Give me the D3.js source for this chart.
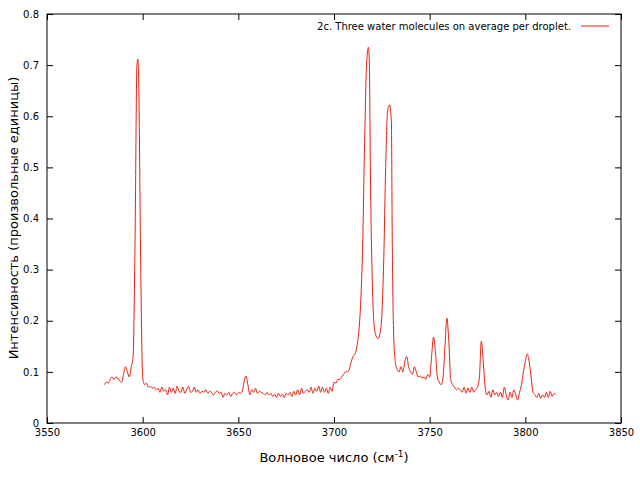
<!DOCTYPE html>
<html><head><meta charset="utf-8">
<script src="https://cdn.jsdelivr.net/npm/d3@7"></script>
<style>body{margin:0;background:#fff}text{font-family:"DejaVu Sans",sans-serif}</style>
</head><body><svg id="c" width="640" height="480"></svg>
<script>
const wavenumbers=[3580,3581,3582,3583,3584,3585,3586,3587,3588,3589,3590,3591,3592,3593,3594,3595,3596,3597,3597.5,3598,3599,3600,3601,3602,3603,3604,3605,3606,3607,3608,3609,3610,3611,3612,3613,3614,3615,3616,3617,3618,3619,3620,3621,3622,3623,3624,3625,3626,3627,3628,3629,3630,3631,3632,3633,3634,3635,3636,3637,3638,3639,3640,3641,3642,3643,3644,3645,3646,3647,3648,3649,3650,3651,3652,3653,3654,3655,3656,3657,3658,3659,3660,3661,3662,3663,3664,3665,3666,3667,3668,3669,3670,3671,3672,3673,3674,3675,3676,3677,3678,3679,3680,3681,3682,3683,3684,3685,3686,3687,3688,3689,3690,3691,3692,3693,3694,3695,3696,3697,3698,3699,3700,3701,3702,3703,3704,3705,3706,3707,3708,3709,3710,3711,3712,3713,3714,3715,3716,3717,3718,3718.5,3719,3720,3721,3722,3723,3724,3725,3726,3727,3728,3729,3730,3730.4,3731,3732,3733,3734,3735,3736,3737,3738,3739,3740,3741,3742,3743,3744,3745,3746,3747,3748,3749,3750,3751,3752,3753,3754,3755,3756,3757,3758,3759,3760,3761,3762,3763,3764,3765,3766,3767,3768,3769,3770,3771,3772,3773,3774,3775,3776,3777,3778,3779,3780,3781,3782,3783,3784,3785,3786,3787,3788,3789,3790,3791,3792,3793,3794,3795,3796,3797,3798,3799,3800,3801,3802,3803,3804,3805,3806,3807,3808,3809,3810,3811,3812,3813,3814,3815,3816];
const intensity=[.075,.08,.078,.085,.09,.085,.09,.088,.082,.08,.095,.11,.10,.09,.11,.13,.35,.70,.712,.65,.30,.09,.075,.078,.07,.072,.068,.07,.065,.068,.06,.07,.062,.065,.055,.07,.06,.068,.058,.072,.062,.06,.07,.058,.065,.072,.06,.062,.07,.06,.065,.058,.062,.06,.065,.058,.062,.06,.055,.06,.063,.058,.06,.05,.058,.055,.06,.052,.058,.06,.055,.06,.058,.062,.08,.092,.075,.055,.065,.06,.068,.058,.062,.06,.058,.055,.06,.055,.058,.052,.056,.05,.058,.052,.056,.05,.058,.055,.06,.052,.062,.055,.065,.055,.068,.058,.062,.065,.06,.07,.058,.068,.062,.072,.06,.07,.06,.068,.058,.07,.062,.08,.078,.085,.085,.09,.095,.10,.10,.105,.12,.13,.135,.15,.18,.24,.35,.55,.70,.735,.70,.50,.28,.19,.17,.165,.175,.21,.32,.50,.61,.622,.59,.38,.20,.12,.105,.10,.11,.10,.12,.13,.11,.10,.095,.11,.10,.09,.092,.088,.09,.085,.095,.09,.13,.168,.14,.09,.08,.075,.09,.15,.205,.16,.085,.075,.07,.065,.068,.065,.06,.07,.058,.068,.06,.07,.06,.065,.07,.09,.16,.12,.07,.055,.062,.05,.065,.055,.06,.052,.06,.05,.07,.055,.045,.06,.05,.065,.055,.045,.06,.075,.10,.12,.135,.12,.09,.06,.055,.05,.058,.048,.055,.05,.06,.05,.062,.052,.058,.055];
const xTicks=[3550,3600,3650,3700,3750,3800,3850];
const yTicks=[0,0.1,0.2,0.3,0.4,0.5,0.6,0.7,0.8];
const legendLabel="2c. Three water molecules on average per droplet.";
const svg=d3.select("#c");
const L=47,R=621,T=14,B=423;
const x=d3.scaleLinear().domain([3550,3850]).range([L,R]);
const y=d3.scaleLinear().domain([0,0.8]).range([B,T]);
svg.append("rect").attr("x",L).attr("y",T).attr("width",R-L).attr("height",B-T).attr("fill","none").attr("stroke","#000");
const ax=svg.append("g").attr("transform",`translate(0,${B})`).call(d3.axisBottom(x).tickValues(xTicks).tickSize(-6).tickPadding(6).tickFormat(d3.format("d")));
const ax2=svg.append("g").attr("transform",`translate(0,${T})`).call(d3.axisTop(x).tickValues(xTicks).tickSize(-6).tickFormat(""));
const ay=svg.append("g").attr("transform",`translate(${L},0)`).call(d3.axisLeft(y).tickValues(yTicks).tickSize(-6).tickPadding(8).tickFormat(d=>d===0?"0":d3.format(".1f")(d)));
const ay2=svg.append("g").attr("transform",`translate(${R},0)`).call(d3.axisRight(y).tickValues(yTicks).tickSize(-6).tickFormat(""));
[ax,ax2,ay,ay2].forEach(a=>{a.select(".domain").remove();a.selectAll("text").attr("font-size",10).attr("fill","#000");a.selectAll("line").attr("stroke","#000");});
svg.append("path").datum(wavenumbers.map((w,i)=>[w,intensity[i]])).attr("fill","none").attr("stroke","#e8200f").attr("stroke-width",1)
 .attr("d",d3.line().curve(d3.curveMonotoneX).x(d=>x(d[0])).y(d=>y(d[1])));
svg.append("text").attr("x",571).attr("y",30).attr("text-anchor","end").attr("font-size",10).text(legendLabel);
svg.append("line").attr("x1",581).attr("x2",609).attr("y1",26).attr("y2",26).attr("stroke","#e8200f");
const xl=svg.append("text").attr("x",334).attr("y",462).attr("text-anchor","middle").attr("font-size",13);
xl.append("tspan").text("Волновое число (см");
xl.append("tspan").attr("dy",-5).attr("font-size",9).text("-1");
xl.append("tspan").attr("dy",5).text(")");
svg.append("text").attr("transform","translate(18,218) rotate(-90)").attr("text-anchor","middle").attr("font-size",13).text("Интенсивность (произвольные единицы)");
</script></body></html>
